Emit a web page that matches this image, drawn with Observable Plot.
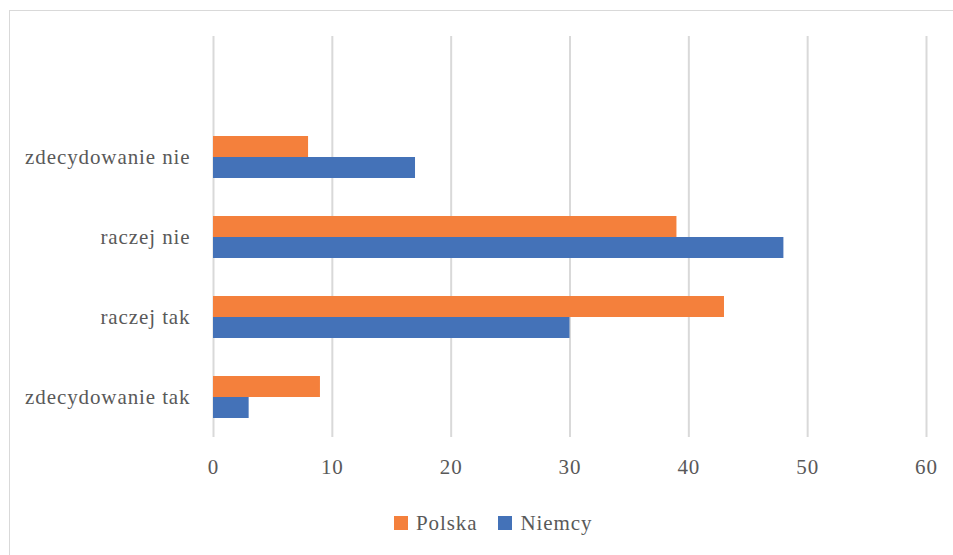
<!DOCTYPE html>
<html>
<head>
<meta charset="utf-8">
<script src="https://cdn.jsdelivr.net/npm/d3@7"></script>
<script src="https://cdn.jsdelivr.net/npm/@observablehq/plot@0.6"></script>
<style>
  html, body { margin: 0; padding: 0; background: #fff; }
  #wrap { position: relative; width: 953px; height: 555px; overflow: hidden; font-family: "Liberation Serif", serif; }
  #frame { position: absolute; left: 9px; top: 10px; width: 1000px; height: 600px; border: 1px solid #d9d9d9; box-sizing: border-box; }
  #chart { position: absolute; left: 0; top: 0; }
  #chart svg, #chart svg text { font-family: "Liberation Serif", serif !important; letter-spacing: 0.9px; }
  #legend { position: absolute; top: 511px; left: 394px; display: flex; gap: 21px; font-size: 21px; line-height: 24px; color: #595959; letter-spacing: 0.9px; }
  #legend span.item { display: flex; align-items: center; gap: 8px; }
  #legend span.sw { width: 14px; height: 14px; display: inline-block; }
</style>
</head>
<body>
<div id="wrap">
  <div id="frame"></div>
  <div id="chart"></div>
  <div id="legend"></div>
</div>
<script>
const categories = ["", "zdecydowanie nie", "raczej nie", "raczej tak", "zdecydowanie tak"];
const series = ["Polska", "Niemcy"];
const polska = [8, 39, 43, 9];
const niemcy = [17, 48, 30, 3];
const colors = ["#F4803C", "#4472B8"];
const xTicks = [0, 10, 20, 30, 40, 50, 60];

const cats = categories.slice(1);
const polskaRows = cats.map((c, i) => ({category: c, series: "Polska", value: polska[i]}));
const niemcyRows = cats.map((c, i) => ({category: c, series: "Niemcy", value: niemcy[i]}));

const barOpts = {x: "value", y: "category", fill: "series", insetTop: 29.5, insetBottom: 29.5};

const chart = Plot.plot({
  width: 953,
  height: 490,
  marginLeft: 213,
  marginRight: 27,
  marginTop: 36,
  marginBottom: 53,
  style: {fontFamily: "Liberation Serif, serif", fontSize: "21px", color: "#595959", background: "transparent"},
  x: {domain: [0, 60], ticks: xTicks, label: null},
  y: {domain: categories, padding: 0, label: null},
  color: {domain: series, range: colors},
  marks: [
    Plot.ruleX(xTicks, {stroke: "#d9d9d9", strokeWidth: 2}),
    Plot.barX(polskaRows, {...barOpts, dy: -10.5}),
    Plot.barX(niemcyRows, {...barOpts, dy: 10.5}),
    Plot.axisX({ticks: xTicks, tickSize: 0, tickPadding: 22, fontSize: 21, fill: "#595959", label: null}),
    Plot.axisY({tickSize: 0, tickPadding: 23, fontSize: 21, fill: "#595959", label: null})
  ]
});
document.getElementById("chart").appendChild(chart);

const legend = document.getElementById("legend");
series.forEach((s, i) => {
  const item = document.createElement("span");
  item.className = "item";
  const sw = document.createElement("span");
  sw.className = "sw";
  sw.style.background = colors[i];
  item.appendChild(sw);
  item.appendChild(document.createTextNode(s));
  legend.appendChild(item);
});
</script>
</body>
</html>
